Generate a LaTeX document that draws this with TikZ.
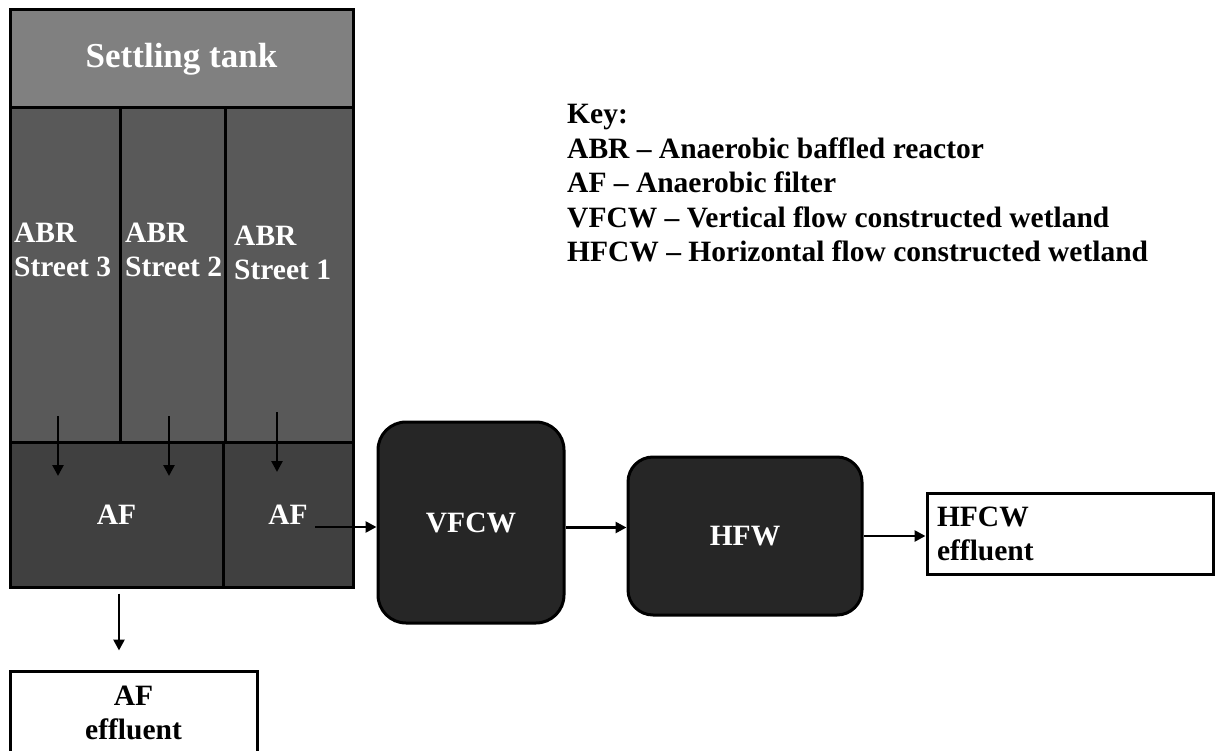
\documentclass[tikz,border=0pt]{standalone}
\usepackage{fontspec}
\setmainfont{Liberation Serif}
\usetikzlibrary{positioning,arrows.meta}

\tikzset{
  unit/.style={draw, line width=3pt, inner sep=0pt, text=white, font=\bfseries\fontsize{29.5}{34}\selectfont},
  pond/.style={unit, fill=black!85, rounded corners=28pt},
  outbox/.style={draw, line width=3pt, fill=white, inner sep=0pt, font=\bfseries\fontsize{29.5}{34}\selectfont},
  lbl/.style={inner sep=0pt, text=white, align=left, font=\bfseries\fontsize{29.5}{34}\selectfont},
  flow/.style={-{Triangle[length=11pt,width=11pt]}, line width=2.6pt},
}

\begin{document}
\begin{tikzpicture}[x=1pt, y=-1pt]
  \useasboundingbox (0,0) rectangle (1215,751);

  % Settling tank
  \node[unit, fill=black!50, minimum width=343pt, minimum height=98pt, font=\bfseries\fontsize{35}{40}\selectfont] (tank) at (181.5,59) {Settling tank};

  % ABR streets
  \node[unit, fill=black!65, minimum width=110pt, minimum height=334pt] (abr3) at (65,275) {};
  \node[unit, fill=black!65, minimum width=105pt, minimum height=334pt] (abr2) at (172.5,275) {};
  \node[unit, fill=black!65, minimum width=128pt, minimum height=334pt] (abr1) at (289,275) {};
  \node[lbl, anchor=north west] (lbl3) at (14,223) {ABR\\Street 3};
  \node[lbl, anchor=north west] (lbl2) at (125,223) {ABR\\Street 2};
  \node[lbl, anchor=north west] (lbl1) at (234,226) {ABR\\Street 1};

  % Anaerobic filters
  \node[unit, fill=black!75, minimum width=213pt, minimum height=145pt] (afl) at (116.5,514.5) {AF};
  \node[unit, fill=black!75, minimum width=130pt, minimum height=145pt] (afr) at (288,514.5) {AF};

  % Wetlands
  \node[pond, minimum width=186pt, minimum height=201pt] (vfcw) at (471,522.5) {VFCW};
  \node[pond, rounded corners=25pt, minimum width=234pt, minimum height=158pt] (hfw) at (745,536) {HFW};

  % Effluents
  \node[outbox, align=left, text width=266pt, inner xsep=10pt, minimum height=81pt] (hfcw) at (1070,533.5) {HFCW\\effluent};
  \node[outbox, align=center, minimum width=247pt, minimum height=84pt] (afeff) at (133.5,713) {AF\\effluent};

  % Key
  \node[inner sep=0pt, align=left, anchor=north west, font=\bfseries\fontsize{29.5}{34.5}\selectfont] (key) at (567,104) {Key:\\ABR – Anaerobic baffled reactor\\AF – Anaerobic filter\\VFCW – Vertical flow constructed wetland\\HFCW – Horizontal flow constructed wetland};

  % Arrows
  \coordinate (s3a) at (58,416);  \coordinate (s3b) at (58,476);
  \coordinate (s2a) at (169,416); \coordinate (s2b) at (169,476);
  \coordinate (s1a) at (277,412); \coordinate (s1b) at (277,472);
  \coordinate (afout) at (315,527);
  \draw[flow] (s3a) -- (s3b);
  \draw[flow] (s2a) -- (s2b);
  \draw[flow] (s1a) -- (s1b);
  \draw[flow] (afout) -- (afout -| vfcw.west);
  \draw[flow] ([yshift=-5pt]vfcw.east) -- ([yshift=-5pt]vfcw.east -| hfw.west);
  \draw[flow] (hfw.east) -- (hfw.east -| hfcw.west);
  \draw[flow, shorten <=5pt, shorten >=19pt] ([xshift=2.5pt]afl.south) -- ([xshift=2.5pt]afl.south |- afeff.north);
\end{tikzpicture}
\end{document}
